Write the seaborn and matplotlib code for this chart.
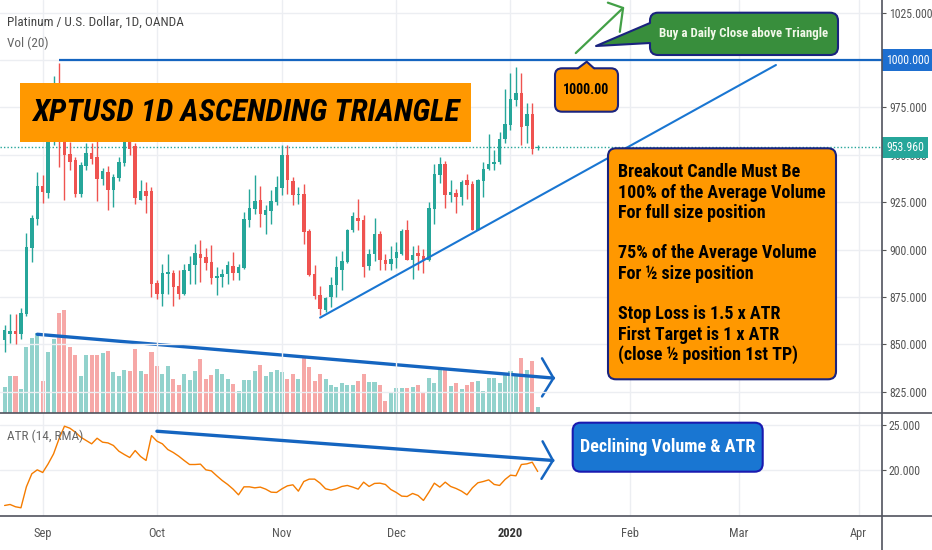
import numpy as np
import pandas as pd
import seaborn as sns
import matplotlib.pyplot as plt
import matplotlib.transforms as mtransforms
from matplotlib.patches import FancyBboxPatch, Polygon
from matplotlib.lines import Line2D

# XPTUSD daily candles (OANDA)
opens = [852.1, 855.6, 857.0, 855.6, 866.2, 901.1, 916.4, 933.6, 929.9, 958.0,
         984.0, 962.0, 950.7, 947.2, 929.5, 944.0, 951.0, 948.9, 937.1, 941.0,
         931.3, 938.0, 945.9, 960.0, 954.6, 926.4, 931.0, 931.0, 882.4, 876.7,
         887.3, 887.6, 880.6, 876.7, 888.7, 891.7, 897.9, 896.1, 893.4, 885.2,
         885.5, 886.9, 891.2, 887.6, 890.5, 915.8, 921.6, 926.4, 918.1, 920.4,
         925.1, 932.7, 949.8, 936.2, 928.7, 929.5, 909.8, 887.3, 875.8, 867.9,
         875.0, 881.1, 889.4, 893.4, 910.5, 916.9, 915.8, 891.2, 897.5, 908.1,
         894.3, 892.6, 895.7, 897.8, 910.2, 894.3, 898.2, 896.4, 894.7, 921.6,
         939.2, 945.4, 928.7, 929.8, 927.8, 936.6, 934.5, 910.5, 936.2, 942.7,
         945.4, 946.3, 958.6, 965.7, 979.2, 982.7, 965.1, 971.3, 953.5]
highs = [860.0, 866.0, 866.0, 869.0, 908.8, 918.0, 941.0, 939.3, 962.0, 991.5,
         998.3, 970.0, 957.0, 949.0, 946.0, 956.0, 956.0, 958.0, 943.0, 944.0,
         940.0, 949.0, 964.0, 966.0, 956.0, 936.6, 935.7, 933.0, 884.0, 892.6,
         897.9, 889.0, 889.0, 892.6, 896.4, 903.1, 905.2, 901.0, 902.3, 890.8,
         889.9, 894.0, 898.7, 892.6, 919.9, 932.2, 939.2, 933.4, 923.4, 931.3,
         938.7, 955.1, 955.1, 938.4, 933.1, 934.8, 910.7, 891.7, 880.6, 875.0,
         885.5, 896.4, 899.3, 911.0, 919.9, 926.9, 918.0, 900.5, 916.9, 910.0,
         897.5, 901.7, 904.0, 911.1, 915.8, 901.7, 902.3, 900.5, 925.1, 945.4,
         948.9, 947.0, 936.6, 932.0, 936.6, 940.1, 936.0, 937.5, 946.3, 961.2,
         952.8, 962.2, 985.0, 993.0, 996.1, 993.3, 977.1, 977.1, 955.1]
lows = [846.0, 850.5, 850.0, 853.0, 865.0, 893.5, 913.2, 924.5, 927.3, 955.0,
        943.6, 926.0, 942.2, 927.8, 928.0, 941.9, 945.4, 925.7, 933.9, 920.7,
        922.5, 936.0, 944.0, 950.0, 924.3, 926.0, 919.3, 874.9, 874.1, 870.5,
        876.7, 870.5, 874.1, 875.8, 882.0, 882.0, 882.9, 889.0, 882.0, 875.8,
        880.2, 882.0, 883.8, 883.8, 889.9, 911.9, 919.0, 911.9, 908.4, 913.7,
        923.4, 928.7, 929.5, 923.4, 924.3, 903.1, 886.0, 874.1, 865.3, 867.0,
        869.7, 875.0, 878.5, 892.9, 909.3, 910.2, 885.5, 889.0, 894.0, 889.0,
        889.0, 889.0, 890.4, 897.0, 894.3, 884.6, 889.0, 887.6, 894.0, 913.7,
        935.2, 922.1, 925.1, 919.3, 923.4, 926.9, 910.2, 910.2, 927.8, 942.2,
        941.9, 945.4, 956.0, 963.0, 976.0, 955.1, 956.0, 950.7, 952.5]
closes = [857.4, 857.0, 855.3, 866.5, 901.4, 916.9, 933.6, 930.4, 958.0, 984.0,
          958.0, 949.8, 946.3, 929.5, 944.5, 951.0, 948.0, 937.1, 941.5, 931.3,
          938.4, 946.3, 960.0, 953.3, 927.4, 931.0, 928.5, 882.0, 876.7, 887.6,
          888.2, 880.2, 876.7, 889.4, 892.2, 898.2, 895.6, 893.1, 885.0, 886.1,
          887.3, 891.7, 887.6, 890.8, 916.3, 922.1, 925.7, 918.6, 920.7, 925.7,
          933.1, 949.8, 936.5, 928.7, 929.2, 909.3, 886.4, 875.5, 868.8, 874.4,
          881.1, 890.8, 894.0, 910.5, 917.6, 915.1, 890.8, 897.5, 908.1, 894.7,
          892.6, 895.2, 898.7, 909.6, 894.7, 897.3, 896.4, 894.3, 922.1, 939.8,
          945.4, 928.7, 930.4, 927.8, 935.7, 934.0, 910.5, 936.6, 942.7, 945.4,
          946.3, 958.6, 966.2, 979.7, 982.7, 964.8, 971.3, 953.3, 953.96]
# Vol (20), thousands
volume = [25, 36, 36, 23, 65, 74, 79, 31, 60, 73, 99, 102, 65, 57, 36, 57, 57, 57, 59, 61,
          40, 36, 42, 41, 63, 41, 38, 60, 46, 38, 46, 33, 27, 38, 32, 41, 53, 33, 37, 43,
          38, 33, 28, 21, 32, 32, 41, 47, 36, 40, 42, 40, 33, 38, 33, 54, 45, 31, 38, 33,
          27, 25, 29, 27, 27, 31, 38, 30, 30, 27, 11, 20, 24, 24, 24, 25, 27, 19, 34, 29,
          42, 43, 26, 29, 23, 27, 30, 31, 21, 34, 34, 29, 37, 41, 37, 54, 42, 51, 5]
# ATR (14, RMA)
atr = [16.19, 16.30, 16.05, 15.94, 18.22, 19.64, 20.07, 19.78, 20.72, 21.81,
       23.44, 24.82, 24.60, 24.17, 23.62, 23.26, 22.90, 23.51, 23.08, 23.00,
       22.72, 22.10, 21.74, 21.41, 22.17, 21.52, 21.09, 23.80, 23.19, 22.90,
       22.28, 21.96, 21.56, 21.09, 20.65, 20.65, 20.69, 20.07, 19.96, 19.42,
       18.91, 18.48, 17.97, 17.35, 18.22, 18.22, 18.11, 18.19, 17.97, 17.64,
       17.61, 18.01, 18.33, 18.44, 17.75, 18.80, 19.06, 19.06, 18.62, 18.01,
       17.86, 18.01, 18.26, 18.37, 18.19, 17.97, 18.73, 18.26, 18.59, 18.62,
       18.48, 17.93, 17.61, 17.21, 17.17, 17.50, 17.28, 16.74, 17.64, 18.62,
       18.19, 18.73, 18.26, 18.04, 17.75, 17.35, 18.11, 18.66, 18.80, 18.98,
       18.48, 18.37, 19.02, 19.49, 19.42, 20.65, 20.72, 20.90, 19.89]

last_price = 953.96
resistance = 1000.0
price_ticks = [825, 850, 875, 900, 925, 950, 975, 1000, 1025]
atr_ticks = [20, 25]

# trader's drawings as (bar index, value)
resistance_from = 10
triangle_x, triangle_y = [58.0, 141.8], [864.1, 997.4]
buy_x, buy_y = [105.0, 113.7], [1003.7, 1027.5]
buy_head_x, buy_head_y = [110.9, 113.7, 113.1], [1030.3, 1027.5, 1014.9]
vol_trend_x, vol_trend_y = [6.0, 100.9], [78, 34.3]
vol_head_x, vol_head_y = [98.8, 100.9, 98.8], [54, 34.3, 16]
atr_trend_x, atr_trend_y = [28.0, 100.8], [24.27, 21.09]
atr_head_x, atr_head_y = [98.9, 100.8, 98.7], [23.17, 21.09, 19.09]

info_lines = ["Breakout Candle Must Be", "100% of the Average Volume", "For full size position", "",
              "75% of the Average Volume", "For ½ size position", "",
              "Stop Loss is 1.5 x ATR", "First Target is 1 x ATR", "(close ½ position 1st TP)"]

days = pd.bdate_range("2019-08-22", "2020-04-30")
days = days[~days.isin(pd.to_datetime(["2019-12-25", "2020-01-01"]))]
df = pd.DataFrame({"date": days[:len(opens)], "open": opens, "high": highs, "low": lows,
                   "close": closes, "volume": volume, "atr": atr})
df["i"] = np.arange(len(df))
month_start = [i for i in range(1, len(days)) if days[i].month != days[i - 1].month]
month_labels = ["2020" if days[i].month == 1 else days[i].strftime("%b") for i in month_start]

sns.set_style("white")
plt.rcParams["font.family"] = ["Liberation Sans Narrow", "Roboto Condensed", "DejaVu Sans"]

teal, red = "#26a69a", "#ef5350"
blue, navy = "#1565c0", "#1a237e"
grid_c, axis_c, txt_c = "#eceef2", "#50535e", "#555555"

W, H = 932, 550
fig = plt.figure(figsize=(W / 100, H / 100), dpi=100)
pane_w = 882 / W
ax = fig.add_axes([0, 1 - 412.5 / H, pane_w, 412.5 / H])
ax_atr = fig.add_axes([0, 1 - 515.5 / H, pane_w, 103 / H], sharex=ax)
ax_vol = ax.twinx()
ax.set_zorder(ax_vol.get_zorder() + 1)
ax.patch.set_visible(False)

up = df["close"] >= df["open"]
cols = np.where(up, teal, red)

# volume overlay
ax_vol.bar(df["i"], df["volume"], width=0.74, color=cols, alpha=0.5, lw=0)
ax_vol.plot(vol_trend_x, vol_trend_y, color=blue, lw=2.4, solid_capstyle="round")
ax_vol.plot(vol_head_x, vol_head_y, color=blue, lw=1.8)
ax_vol.set_ylim(0, df["volume"].max() / 0.248)
ax_vol.axis("off")

# candles
ax.vlines(df["i"], df["low"], df["high"], colors=cols, lw=1, zorder=3)
body_lo = np.minimum(df["open"], df["close"])
body_h = np.maximum((df["close"] - df["open"]).abs(), 0.6)
ax.bar(df["i"], body_h, bottom=body_lo, width=0.64, color=cols, lw=0, zorder=4)

ax.axhline(last_price, color=teal, lw=1, ls=(0, (1, 1.5)), zorder=2)
ax.hlines(resistance, resistance_from, 170, color=blue, lw=1.6, zorder=5)
ax.plot(triangle_x, triangle_y, color="#1976d2", lw=1.5, zorder=5)
ax.plot(buy_x, buy_y, color="#43a047", lw=1.6, zorder=5)
ax.plot(buy_head_x, buy_head_y, color="#43a047", lw=1.6, zorder=5)

ax.set_xlim(-0.85, 161.3)
ax.set_ylim(814.05, 1031.7)
ax.set_yticks(price_ticks)
ax.yaxis.tick_right()
# the 1000 level is shown by the blue badge instead
ax.yaxis.set_major_formatter(lambda v, p: "" if v == resistance else f"{v:.3f}")
ax.set_xticks(month_start)
ax.tick_params(axis="x", length=0, labelbottom=False)
ax.tick_params(axis="y", length=3, color=txt_c, labelsize=8.5, labelcolor=txt_c, pad=2)
ax.grid(True, color=grid_c, lw=1)

# ATR pane
sns.lineplot(x=df["i"], y=df["atr"], ax=ax_atr, color="#f57c00", lw=1)
ax_atr.plot(atr_trend_x, atr_trend_y, color=blue, lw=2.4, solid_capstyle="round")
ax_atr.plot(atr_head_x, atr_head_y, color=blue, lw=1.8)
ax_atr.set_ylim(15.10, 26.31)
ax_atr.set_yticks(atr_ticks)
ax_atr.yaxis.tick_right()
ax_atr.yaxis.set_major_formatter(lambda v, p: f"{v:.3f}")
ax_atr.set_xticks(month_start, month_labels)
ax_atr.set_xlim(-0.85, 161.3)
ax_atr.set_xlabel("")
ax_atr.set_ylabel("")
ax_atr.tick_params(axis="x", length=3, color=txt_c, labelsize=9, labelcolor=txt_c, pad=5)
ax_atr.tick_params(axis="y", length=3, color=txt_c, labelsize=8.5, labelcolor=txt_c, pad=2)
ax_atr.grid(True, color=grid_c, lw=1)
for lab in ax_atr.get_xticklabels():
    if lab.get_text() == "2020":
        lab.set_fontweight("bold")
        lab.set_color("#333333")

for a in (ax, ax_atr):
    for s in a.spines.values():
        s.set_visible(False)

# pane separators and price scale border
for y in (412.5, 515.5):
    fig.add_artist(Line2D([0, 1], [1 - y / H] * 2, color=axis_c, lw=1.2, transform=fig.transFigure))
fig.add_artist(Line2D([pane_w] * 2, [0, 1], color=axis_c, lw=1.2, transform=fig.transFigure))

# price scale badges
scale_tr = mtransforms.offset_copy(
    mtransforms.blended_transform_factory(ax.transAxes, ax.transData), fig=fig, x=4, units="dots")
ax.text(1, resistance, f"{resistance:.3f}", transform=scale_tr, ha="left", va="center",
        fontsize=8.5, color="white", clip_on=False, zorder=30,
        bbox=dict(boxstyle="square,pad=0.35", fc="#1e6fd0", ec="none"))
ax.text(1, last_price, f"{last_price:.3f}", transform=scale_tr, ha="left", va="center",
        fontsize=8.5, color="white", clip_on=False, zorder=30,
        bbox=dict(boxstyle="square,pad=0.35", fc=teal, ec="none"))


def box(x0, y0, x1, y1, fc, ec="none", r=0, lw=1.5):
    style = f"round,pad=0,rounding_size={r / 100}" if r else "square,pad=0"
    fig.add_artist(FancyBboxPatch((x0 / 100, (H - y1) / 100), (x1 - x0) / 100, (y1 - y0) / 100,
                                  boxstyle=style, fc=fc, ec=ec, lw=lw,
                                  transform=fig.dpi_scale_trans, zorder=20))


def pointer(b1, tip, b2, inward, fc, ec):
    pts = [(b1[0] + inward[0], b1[1] + inward[1]), b1, tip, b2, (b2[0] + inward[0], b2[1] + inward[1])]
    pts = [(x / 100, (H - y) / 100) for x, y in pts]
    fig.add_artist(Polygon(pts, closed=True, fc=fc, ec="none", transform=fig.dpi_scale_trans, zorder=21))
    xs, ys = zip(*pts[1:4])
    fig.add_artist(Line2D(xs, ys, color=ec, lw=1.5, transform=fig.dpi_scale_trans, zorder=22))


def label(x, y, s, **kw):
    fig.text(x / W, 1 - y / H, s, zorder=23, **kw)


label(7, 22, "Platinum / U.S. Dollar, 1D, OANDA", fontsize=9.5, color="#444444", va="center")
label(7, 43, "Vol (20)", fontsize=9.5, color="#666666", va="center")
label(7, 436, "ATR (14, RMA)", fontsize=9.5, color="#666666", va="center")

box(20, 83.3, 471, 141.7, "#ff9800")
label(245.5, 112.5, "XPTUSD 1D ASCENDING TRIANGLE", fontsize=22.5, fontweight="bold",
      fontstyle="italic", color="black", ha="center", va="center")

box(650, 12.7, 838, 55, "#388e3c", navy, r=8)
pointer((650, 23), (596, 46), (650, 43), (4, 0), "#388e3c", navy)
label(744, 34, "Buy a Daily Close above Triangle", fontsize=9.3, fontweight="bold",
      color="#f1f8e9", ha="center", va="center")

box(555, 68.3, 618, 111.7, "#ff9800", navy, r=7)
pointer((578, 68.3), (586.7, 61.7), (594, 68.3), (0, 4), "#ff9800", navy)
label(586.5, 90, "1000.00", fontsize=10, fontweight="bold", color="black", ha="center", va="center")

box(608, 148.3, 836, 379.3, "#ff9800", navy, r=8)
for k, line in enumerate(info_lines):
    label(617.5, 172.3 + k * 20.3, line, fontsize=13, fontweight="bold", color="black", va="center")

box(572.7, 422.7, 762.7, 471.7, "#1976d2", "#1a1ab0", r=8)
label(668, 447, "Declining Volume & ATR", fontsize=13, fontweight="bold", color="white",
      ha="center", va="center")

fig.savefig("out.png", dpi=100)
